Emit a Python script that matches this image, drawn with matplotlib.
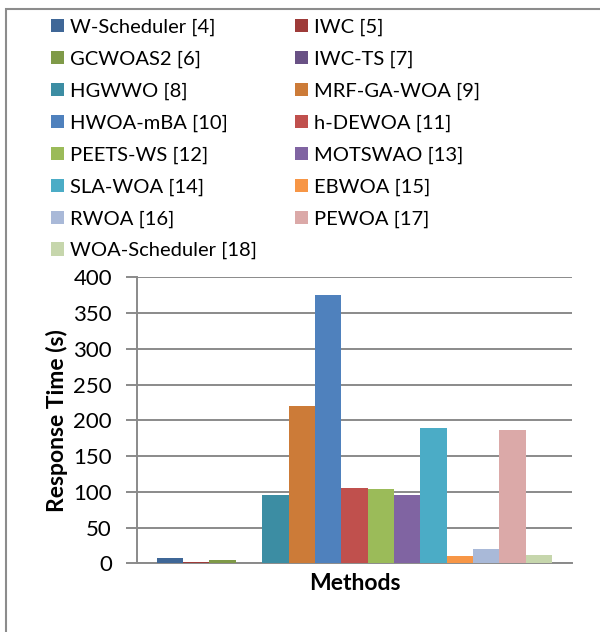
import matplotlib
matplotlib.use("Agg")
import matplotlib.pyplot as plt
from matplotlib.patches import Rectangle

methods = ["W-Scheduler [4]", "IWC [5]", "GCWOAS2 [6]", "IWC-TS [7]", "HGWWO [8]",
           "MRF-GA-WOA [9]", "HWOA-mBA [10]", "h-DEWOA [11]", "PEETS-WS [12]",
           "MOTSWAO [13]", "SLA-WOA [14]", "EBWOA [15]", "RWOA [16]", "PEWOA [17]",
           "WOA-Scheduler [18]"]
response_time = [7.5, 2, 4.5, 1, 95.5, 220, 375, 105, 104, 95.5, 189, 10, 20, 187, 11.5]
colors = ["#3F6797", "#9E3B39", "#7F9A48", "#695185", "#3C8DA3", "#CC7B38",
          "#4F81BD", "#C0504D", "#9BBB59", "#8064A2", "#4BACC6", "#F79646",
          "#A9B9D8", "#DBA9A8", "#C6D6AC"]
yticks = [0, 50, 100, 150, 200, 250, 300, 350, 400]

plt.rcParams['font.family'] = ['Lato', 'DejaVu Sans']

fig = plt.figure(figsize=(6.0, 6.32), dpi=100)
ax = fig.add_axes([0.2283, 0.1087, 0.725, 0.4525])

n = len(methods)
w = 1.0 / (n + 1.5)
handles = []
for i, (m, v, c) in enumerate(zip(methods, response_time, colors)):
    x = -0.5 + w * (0.75 + i + 0.5)
    b = ax.bar(x, v, width=w, color=c, label=m, zorder=3)
    handles.append(b)

ax.set_xlim(-0.5, 0.5)
ax.set_ylim(0, 400)
ax.set_yticks(yticks)
ax.set_xticks([])
ax.grid(axis='y', color='#8A8A8A', linewidth=1.4, zorder=0)
for s in ['top', 'right']:
    ax.spines[s].set_visible(False)
for s in ['left', 'bottom']:
    ax.spines[s].set_color('#8A8A8A')
    ax.spines[s].set_linewidth(1.4)
ax.tick_params(axis='y', length=8, width=1.4, color='#8A8A8A', labelsize=16, pad=10)
ax.set_ylabel("Response Time (s)", fontsize=16.5, fontweight='bold', labelpad=4)
ax.set_xlabel("Methods", fontsize=16.5, fontweight='bold', labelpad=7)

# Legend: row-major order in two columns
order = list(range(0, n, 2)) + list(range(1, n, 2))
leg = fig.legend([handles[i] for i in order], [methods[i] for i in order],
                 ncol=2, loc='upper left', bbox_to_anchor=(0.085, 0.9707),
                 frameon=False, fontsize=14.5, handlelength=0.64, handleheight=0.64,
                 handletextpad=0.3, labelspacing=0.725, columnspacing=1.9,
                 borderaxespad=0, borderpad=0)

fig.patches.append(Rectangle((0.01, -0.1), 1.2, 0.9858 + 0.1, transform=fig.transFigure,
                             fill=False, edgecolor='#8C8C8C', linewidth=1.5))

fig.savefig("out.png", dpi=100)
